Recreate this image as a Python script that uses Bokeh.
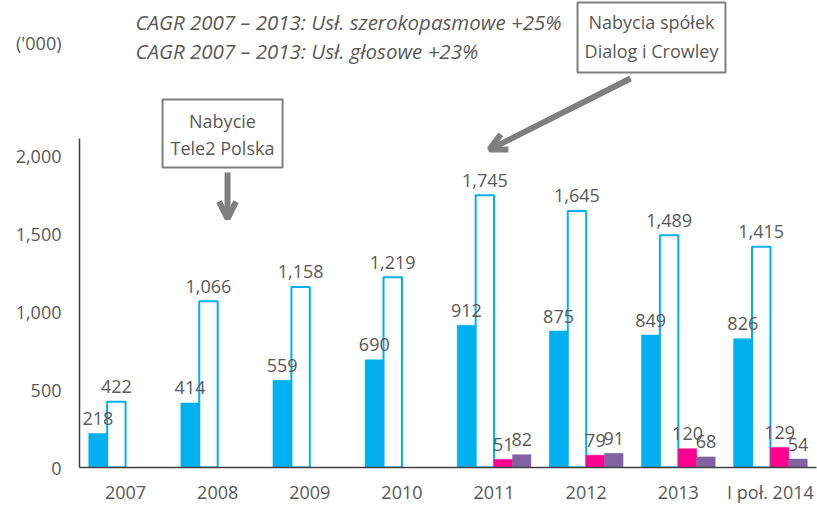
from bokeh.plotting import figure
from bokeh.models import (ColumnDataSource, FactorRange, Range1d, FixedTicker, LinearAxis,
                          NumeralTickFormatter, BoxAnnotation, Label, Arrow, OpenHead)
from bokeh.transform import dodge
from bokeh.core.properties import value
from bokeh.embed import file_html
from bokeh.resources import INLINE

# ---- data ----
categories = ["2007", "2008", "2009", "2010", "2011", "2012", "2013", "I poł. 2014"]
broadband = [218, 414, 559, 690, 912, 875, 849, 826]
voice = [422, 1066, 1158, 1219, 1745, 1645, 1489, 1415]
late_categories = ["2011", "2012", "2013", "I poł. 2014"]
series3 = [51, 79, 120, 129]
series4 = [82, 91, 68, 54]
y_ticks = [0, 500, 1000, 1500, 2000]
unit_label = "('000)"
unit_label_y = 2724

FONT = "Open Sans"
GREY = "#595959"
BLUE = "#00B0F0"
PINK = "#FF0090"
PURPLE = "#8064A2"
BOXGREY = "#7F7F7F"

def fmt(v):
    return f"{v:,}"

src_main = ColumnDataSource(dict(
    cat=categories, bb=broadband, vo=voice,
    bb_l=[fmt(v) for v in broadband], vo_l=[fmt(v) for v in voice]))
src_late = ColumnDataSource(dict(
    cat=late_categories, s3=series3, s4=series4,
    s3_l=[fmt(v) for v in series3], s4_l=[fmt(v) for v in series4]))

p = figure(width=817, height=506, output_backend="svg", toolbar_location=None,
           x_range=FactorRange(factors=categories, range_padding=0),
           y_range=Range1d(0, 2994),
           min_border_left=79, min_border_right=1, min_border_top=0, min_border_bottom=39)
p.outline_line_color = None
p.grid.visible = False
p.background_fill_color = "white"

W = 0.2
p.vbar(x=dodge("cat", -0.3, range=p.x_range), top="bb", width=W, source=src_main,
       fill_color=BLUE, line_color=BLUE, line_width=0.5)
p.vbar(x=dodge("cat", -0.1, range=p.x_range), top="vo", width=W, source=src_main,
       fill_color="white", line_color=BLUE, line_width=2)
p.vbar(x=dodge("cat", 0.1, range=p.x_range), top="s3", width=W, source=src_late,
       fill_color=PINK, line_color=PINK, line_width=0.5)
p.vbar(x=dodge("cat", 0.3, range=p.x_range), top="s4", width=W, source=src_late,
       fill_color=PURPLE, line_color=PURPLE, line_width=0.5)

txt = dict(text_font=value(FONT), text_font_size="18px", text_color=GREY,
           text_align="center", text_baseline="alphabetic", y_offset=-15)
p.text(x=dodge("cat", -0.3, range=p.x_range), y="bb", text="bb_l", source=src_main, **txt)
p.text(x=dodge("cat", -0.1, range=p.x_range), y="vo", text="vo_l", source=src_main, **txt)
p.text(x=dodge("cat", 0.1, range=p.x_range), y="s3", text="s3_l", source=src_late, **txt)
p.text(x=dodge("cat", 0.3, range=p.x_range), y="s4", text="s4_l", source=src_late, **txt)

# y axis line only (nearest to frame)
ya = p.yaxis[0]
ya.ticker = FixedTicker(ticks=[])
ya.bounds = (0, 2110)
ya.axis_line_color = "#404040"
ya.axis_line_width = 1.5
ya.major_tick_line_color = None
ya.minor_tick_line_color = None
ya.major_tick_out = 0
ya.major_tick_in = 0
ya.major_label_standoff = 0

# y axis labels (no line)
yl = LinearAxis(ticker=FixedTicker(ticks=y_ticks + [unit_label_y]),
                formatter=NumeralTickFormatter(format="0,0"),
                major_label_overrides={unit_label_y: unit_label},
                axis_line_color=None, major_tick_line_color=None,
                minor_tick_line_color=None, major_tick_out=0, major_tick_in=0,
                major_label_standoff=18, major_label_text_font=FONT,
                major_label_text_font_size="18px", major_label_text_color=GREY)
p.add_layout(yl, "left")

p.xaxis.axis_line_color = "#404040"
p.xaxis.axis_line_width = 1.5
p.xaxis.major_tick_line_color = None
p.xaxis.minor_tick_line_color = None
p.xaxis.major_tick_out = 0
p.xaxis.major_label_standoff = 12
p.xaxis.major_label_text_font = FONT
p.xaxis.major_label_text_font_size = "18px"
p.xaxis.major_label_text_color = GREY

# annotations
lbl = dict(text_font=FONT, text_font_size="18px", text_color=GREY)
p.add_layout(Label(x=0.608, y=2853, text="CAGR 2007 – 2013: Usł. szerokopasmowe +25%",
                   text_baseline="middle", text_font_style="italic",
                   text_font=FONT, text_font_size="20.5px", text_color=GREY))
p.add_layout(Label(x=0.608, y=2673, text="CAGR 2007 – 2013: Usł. głosowe +23%",
                   text_baseline="middle", text_font_style="italic",
                   text_font=FONT, text_font_size="20.5px", text_color=GREY))

p.add_layout(BoxAnnotation(left=0.901, right=2.204, top=2359, bottom=1923,
                           fill_color="white", fill_alpha=1, line_color=BOXGREY,
                           line_width=2, line_alpha=1))
p.add_layout(Label(x=1.552, y=2224, text="Nabycie", text_align="center",
                   text_baseline="middle", **lbl))
p.add_layout(Label(x=1.552, y=2051, text="Tele2 Polska", text_align="center",
                   text_baseline="middle", **lbl))
p.add_layout(Arrow(x_start=1.607, y_start=1891, x_end=1.607, y_end=1596,
                   line_color=BOXGREY, line_width=6,
                   end=OpenHead(size=17, line_width=6, line_color=BOXGREY)))

p.add_layout(BoxAnnotation(left=5.406, right=7.012, top=2981, bottom=2532,
                           fill_color="white", fill_alpha=1, line_color=BOXGREY,
                           line_width=2, line_alpha=1))
p.add_layout(Label(x=6.209, y=2853, text="Nabycia spółek", text_align="center",
                   text_baseline="middle", **lbl))
p.add_layout(Label(x=6.209, y=2673, text="Dialog i Crowley", text_align="center",
                   text_baseline="middle", **lbl))
p.add_layout(Arrow(x_start=5.981, y_start=2494, x_end=4.450, y_end=2038,
                   line_color=BOXGREY, line_width=6,
                   end=OpenHead(size=17, line_width=6, line_color=BOXGREY)))

open("out.html", "w").write(file_html(p, INLINE))
